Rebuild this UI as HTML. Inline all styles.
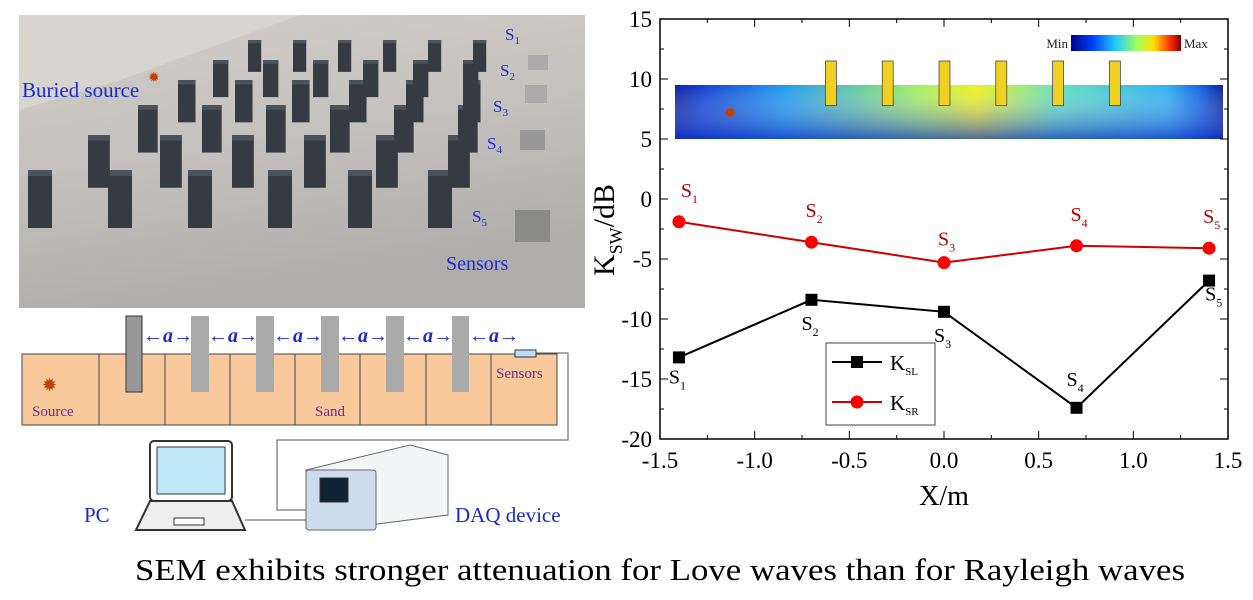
<!DOCTYPE html>
<html><head><meta charset="utf-8"><style>
body{margin:0;width:1253px;height:600px;background:#fff;overflow:hidden;position:relative;font-family:"Liberation Serif",serif}
svg{position:absolute;left:0;top:0}
</style></head><body>
<svg width="1253" height="600">
<defs>
<linearGradient id="sand" x1="0" y1="0" x2="0.3" y2="1"><stop offset="0" stop-color="#d2cec8"/><stop offset="0.5" stop-color="#c4c2be"/><stop offset="1" stop-color="#afadab"/></linearGradient>
<linearGradient id="cb" x1="0" x2="1"><stop offset="0" stop-color="#00008f"/><stop offset="0.2" stop-color="#0040ff"/><stop offset="0.4" stop-color="#20c8ff"/><stop offset="0.6" stop-color="#a0ff60"/><stop offset="0.75" stop-color="#ffe000"/><stop offset="0.9" stop-color="#ff3000"/><stop offset="1" stop-color="#800000"/></linearGradient>
<linearGradient id="hm" x1="0" x2="1"><stop offset="0" stop-color="#0a1fa0"/><stop offset="0.05" stop-color="#1040d0"/><stop offset="0.2" stop-color="#1e9cf0"/><stop offset="0.45" stop-color="#a8f060"/><stop offset="0.55" stop-color="#f0f020"/><stop offset="0.7" stop-color="#60e0c0"/><stop offset="0.9" stop-color="#30b0f0"/><stop offset="0.96" stop-color="#1060e0"/><stop offset="1" stop-color="#0a1fa0"/></linearGradient>
<linearGradient id="hmv" x1="0" y1="0" x2="0" y2="1"><stop offset="0" stop-color="#fff" stop-opacity="0"/><stop offset="1" stop-color="#1030c0" stop-opacity="0.7"/></linearGradient>
</defs>
<g>
<rect x="19" y="15" width="566" height="293" fill="url(#sand)"/>
<polygon points="19,15 300,15 120,80 19,110" fill="#d8d4ce"/>
<g id="blocks"></g>
<text x="22" y="97" font-size="21" fill="#1a2ad0">Buried source</text>
<text x="148" y="82" font-size="14" fill="#c04000">✹</text>
<text x="505" y="40" font-size="17" fill="#1a2ad0">S<tspan font-size="11" dy="4">1</tspan></text>
<text x="500" y="76" font-size="17" fill="#1a2ad0">S<tspan font-size="11" dy="4">2</tspan></text>
<text x="493" y="112" font-size="17" fill="#1a2ad0">S<tspan font-size="11" dy="4">3</tspan></text>
<text x="487" y="149" font-size="17" fill="#1a2ad0">S<tspan font-size="11" dy="4">4</tspan></text>
<text x="472" y="222" font-size="17" fill="#1a2ad0">S<tspan font-size="11" dy="4">5</tspan></text>
<text x="446" y="270" font-size="20" fill="#1a2ad0">Sensors</text>
<rect x="515" y="210" width="35" height="32" fill="#8a8a88"/>
<rect x="520" y="130" width="25" height="20" fill="#999"/>
<rect x="525" y="85" width="22" height="18" fill="#aaa"/>
<rect x="528" y="55" width="20" height="15" fill="#aaa"/>
</g>
<g stroke="#333">
<rect x="22" y="354" width="535" height="71" fill="#f9c89b" stroke="#444"/>
<g stroke="#444"><line x1="99" y1="354" x2="99" y2="425"/><line x1="165" y1="354" x2="165" y2="425"/><line x1="230" y1="354" x2="230" y2="425"/><line x1="295" y1="354" x2="295" y2="425"/><line x1="360" y1="354" x2="360" y2="425"/><line x1="426" y1="354" x2="426" y2="425"/><line x1="491" y1="354" x2="491" y2="425"/></g>
<rect x="126" y="316" width="16" height="76" fill="#999" stroke="#333"/>
<g fill="#aaa" stroke="none"><rect x="191" y="316" width="18" height="76"/><rect x="256" y="316" width="18" height="76"/><rect x="321" y="316" width="18" height="76"/><rect x="386" y="316" width="18" height="76"/><rect x="452" y="316" width="17" height="76"/></g>
<rect x="515" y="350" width="21" height="7" fill="#bdf" stroke="#333"/>
<polyline points="536,353 568,353 568,440 277,440 277,510 306,510" fill="none" stroke="#555"/>
<line x1="245" y1="520" x2="306" y2="520" stroke="#555"/>
<g fill="#1a2ad0" stroke="none" font-size="20" font-style="italic" font-weight="bold">
<text x="143" y="342">←a→</text><text x="208" y="342">←a→</text><text x="273" y="342">←a→</text><text x="338" y="342">←a→</text><text x="403" y="342">←a→</text><text x="469" y="342">←a→</text></g>
<text x="42" y="391" font-size="18" fill="#c04000" stroke="none">✹</text>
<g fill="#6a2a8a" stroke="none" font-size="15"><text x="32" y="416">Source</text><text x="315" y="416">Sand</text><text x="496" y="378">Sensors</text></g>
<rect x="150" y="441" width="82" height="60" rx="4" fill="#fff" stroke="#333" stroke-width="2"/>
<rect x="157" y="447" width="68" height="47" fill="#bfe8f8"/>
<polygon points="150,501 232,501 245,530 136,530" fill="#eee" stroke="#333" stroke-width="2"/>
<rect x="174" y="518" width="30" height="7" fill="#fff"/>
<polygon points="306,470 410,445 448,455 448,515 330,530 306,528" fill="#f2f4f6" stroke="#666"/>
<rect x="306" y="470" width="70" height="60" rx="3" fill="#cde" stroke="#666"/>
<rect x="320" y="478" width="28" height="24" fill="#123"/>
<text x="84" y="522" font-size="21" fill="#1a2ad0" stroke="none">PC</text>
<text x="455" y="522" font-size="21" fill="#1a2ad0" stroke="none">DAQ device</text>
</g>
<g>
<g>
<rect x="675" y="85" width="548" height="54" fill="url(#hm)"/>
<rect x="675" y="85" width="548" height="54" fill="url(#hmv)"/>
<g id="pillars"></g>
<text x="730" y="118" font-size="15" fill="#c04000" text-anchor="middle">✹</text>
<rect x="1071" y="35" width="110" height="16" fill="url(#cb)"/>
<text x="1068" y="48" font-size="13" text-anchor="end" fill="#222">Min</text>
<text x="1184" y="48" font-size="13" fill="#222">Max</text>
</g>
<g id="axes"></g>
<g id="series"></g>
<g>
<rect x="826" y="343" width="109" height="82" fill="#fff" stroke="#444"/>
<line x1="832" y1="362" x2="882" y2="362" stroke="#000" stroke-width="2"/><rect x="851" y="356" width="12" height="12" fill="#000"/>
<text x="890" y="370" font-size="21">K<tspan font-size="11" dy="5">SL</tspan></text>
<line x1="832" y1="402" x2="882" y2="402" stroke="#c00" stroke-width="2"/><circle cx="857" cy="402" r="6.5" fill="#f00"/>
<text x="890" y="410" font-size="21">K<tspan font-size="11" dy="5">SR</tspan></text>
</g>
<text x="944" y="505" font-size="28" text-anchor="middle">X/m</text>
<text transform="translate(614,230) rotate(-90)" font-size="30" text-anchor="middle">K<tspan font-size="18" dy="8">SW</tspan><tspan dy="-8">/dB</tspan></text>
</g>
<text x="135" y="580" font-size="31" textLength="1050" lengthAdjust="spacingAndGlyphs">SEM exhibits stronger attenuation for Love waves  than for Rayleigh waves</text>
</svg>
<script>
const xPos=[-1.4,-0.7,0,0.7,1.4];
const kSL=[-13.2,-8.4,-9.4,-17.4,-6.8];
const kSR=[-1.9,-3.6,-5.3,-3.9,-4.1];
const xTicks=[-1.5,-1.0,-0.5,0.0,0.5,1.0,1.5];
const yTicks=[-20,-15,-10,-5,0,5,10,15];
const labels=['1','2','3','4','5'];
const X0=660,X1=1228,Y0=439,Y1=19;
const sx=v=>X0+(v+1.5)/3*(X1-X0);
const sy=v=>Y0-(v+20)/35*(Y0-Y1);
const NS='http://www.w3.org/2000/svg';
function mk(t,a,p){const e=document.createElementNS(NS,t);for(const k in a)e.setAttribute(k,a[k]);p.appendChild(e);return e;}
const ax=document.getElementById('axes');
mk('rect',{x:X0,y:Y1,width:X1-X0,height:Y0-Y1,fill:'none',stroke:'#000','stroke-width':1.5},ax);
xTicks.forEach((t,i)=>{const x=sx(t);
mk('line',{x1:x,x2:x,y1:Y0,y2:Y0-8,stroke:'#000'},ax);mk('line',{x1:x,x2:x,y1:Y1,y2:Y1+8,stroke:'#000'},ax);
if(i<xTicks.length-1){const m=sx(t+0.25);mk('line',{x1:m,x2:m,y1:Y0,y2:Y0-4,stroke:'#000'},ax);mk('line',{x1:m,x2:m,y1:Y1,y2:Y1+4,stroke:'#000'},ax);}
const tx=mk('text',{x:x,y:Y0+29,'font-size':23,'text-anchor':'middle'},ax);tx.textContent=t.toFixed(1);

});
yTicks.forEach((t,i)=>{const y=sy(t);
mk('line',{x1:X0,x2:X0+8,y1:y,y2:y,stroke:'#000'},ax);mk('line',{x1:X1,x2:X1-8,y1:y,y2:y,stroke:'#000'},ax);
if(i<yTicks.length-1){const m=sy(t+2.5);mk('line',{x1:X0,x2:X0+4,y1:m,y2:m,stroke:'#000'},ax);mk('line',{x1:X1,x2:X1-4,y1:m,y2:m,stroke:'#000'},ax);}
const tx=mk('text',{x:X0-8,y:y+8,'font-size':23,'text-anchor':'end'},ax);tx.textContent=t;

});
const pl=document.getElementById('pillars');
[-0.6,-0.3,0,0.3,0.6,0.9].forEach(v=>{const x=sx(v)-5;
const r=mk('rect',{x:x,y:sy(11.5),width:11,height:sy(7.8)-sy(11.5),fill:'#f0d020',stroke:'#333','stroke-width':0.7},pl);

});
const se=document.getElementById('series');
function series(vals,col,name,marker){
const pts=xPos.map((x,i)=>sx(x)+','+sy(vals[i])).join(' ');
const l=mk('polyline',{points:pts,fill:'none',stroke:col,'stroke-width':2},se);


xPos.forEach((x,i)=>{let m;
if(marker==='sq')m=mk('rect',{x:sx(x)-6,y:sy(vals[i])-6,width:12,height:12,fill:'#000'},se);
else m=mk('circle',{cx:sx(x),cy:sy(vals[i]),r:6.5,fill:'#f00'},se);

});}
series(kSL,'#000','ksl','sq');series(kSR,'#c00','ksr','c');
function lab(x,y,s,col){const t=mk('text',{x:x,y:y,'font-size':20,fill:col},se);t.innerHTML='S<tspan font-size="12" dy="6">'+s+'</tspan>';

}
xPos.forEach((x,i)=>lab(sx(x)-6+(i==0?8:0),sy(kSR[i])-(i==2?17:25),labels[i],'#b00000'));
const slOff=[26,30,30,-22,20];
xPos.forEach((x,i)=>lab(sx(x)-10+(i==4?6:0),sy(kSL[i])+slOff[i],labels[i],'#000'));
const bl=document.getElementById('blocks');
for(let r=0;r<6;r++){for(let c=0;c<6;c++){
const sc=1.0-r*0.09;const y=[170,135,105,80,60,40][r];const x=[28,88,138,178,213,248][r]+c*[80,72,64,57,50,45][r];
const w=24*sc,h=58*sc;
const b=mk('rect',{x:x,y:y,width:w,height:h,fill:'#353b41'},bl);


mk('rect',{x:x,y:y,width:w,height:6*sc,fill:'#4a525a'},bl);}}
</script>
</body></html>
